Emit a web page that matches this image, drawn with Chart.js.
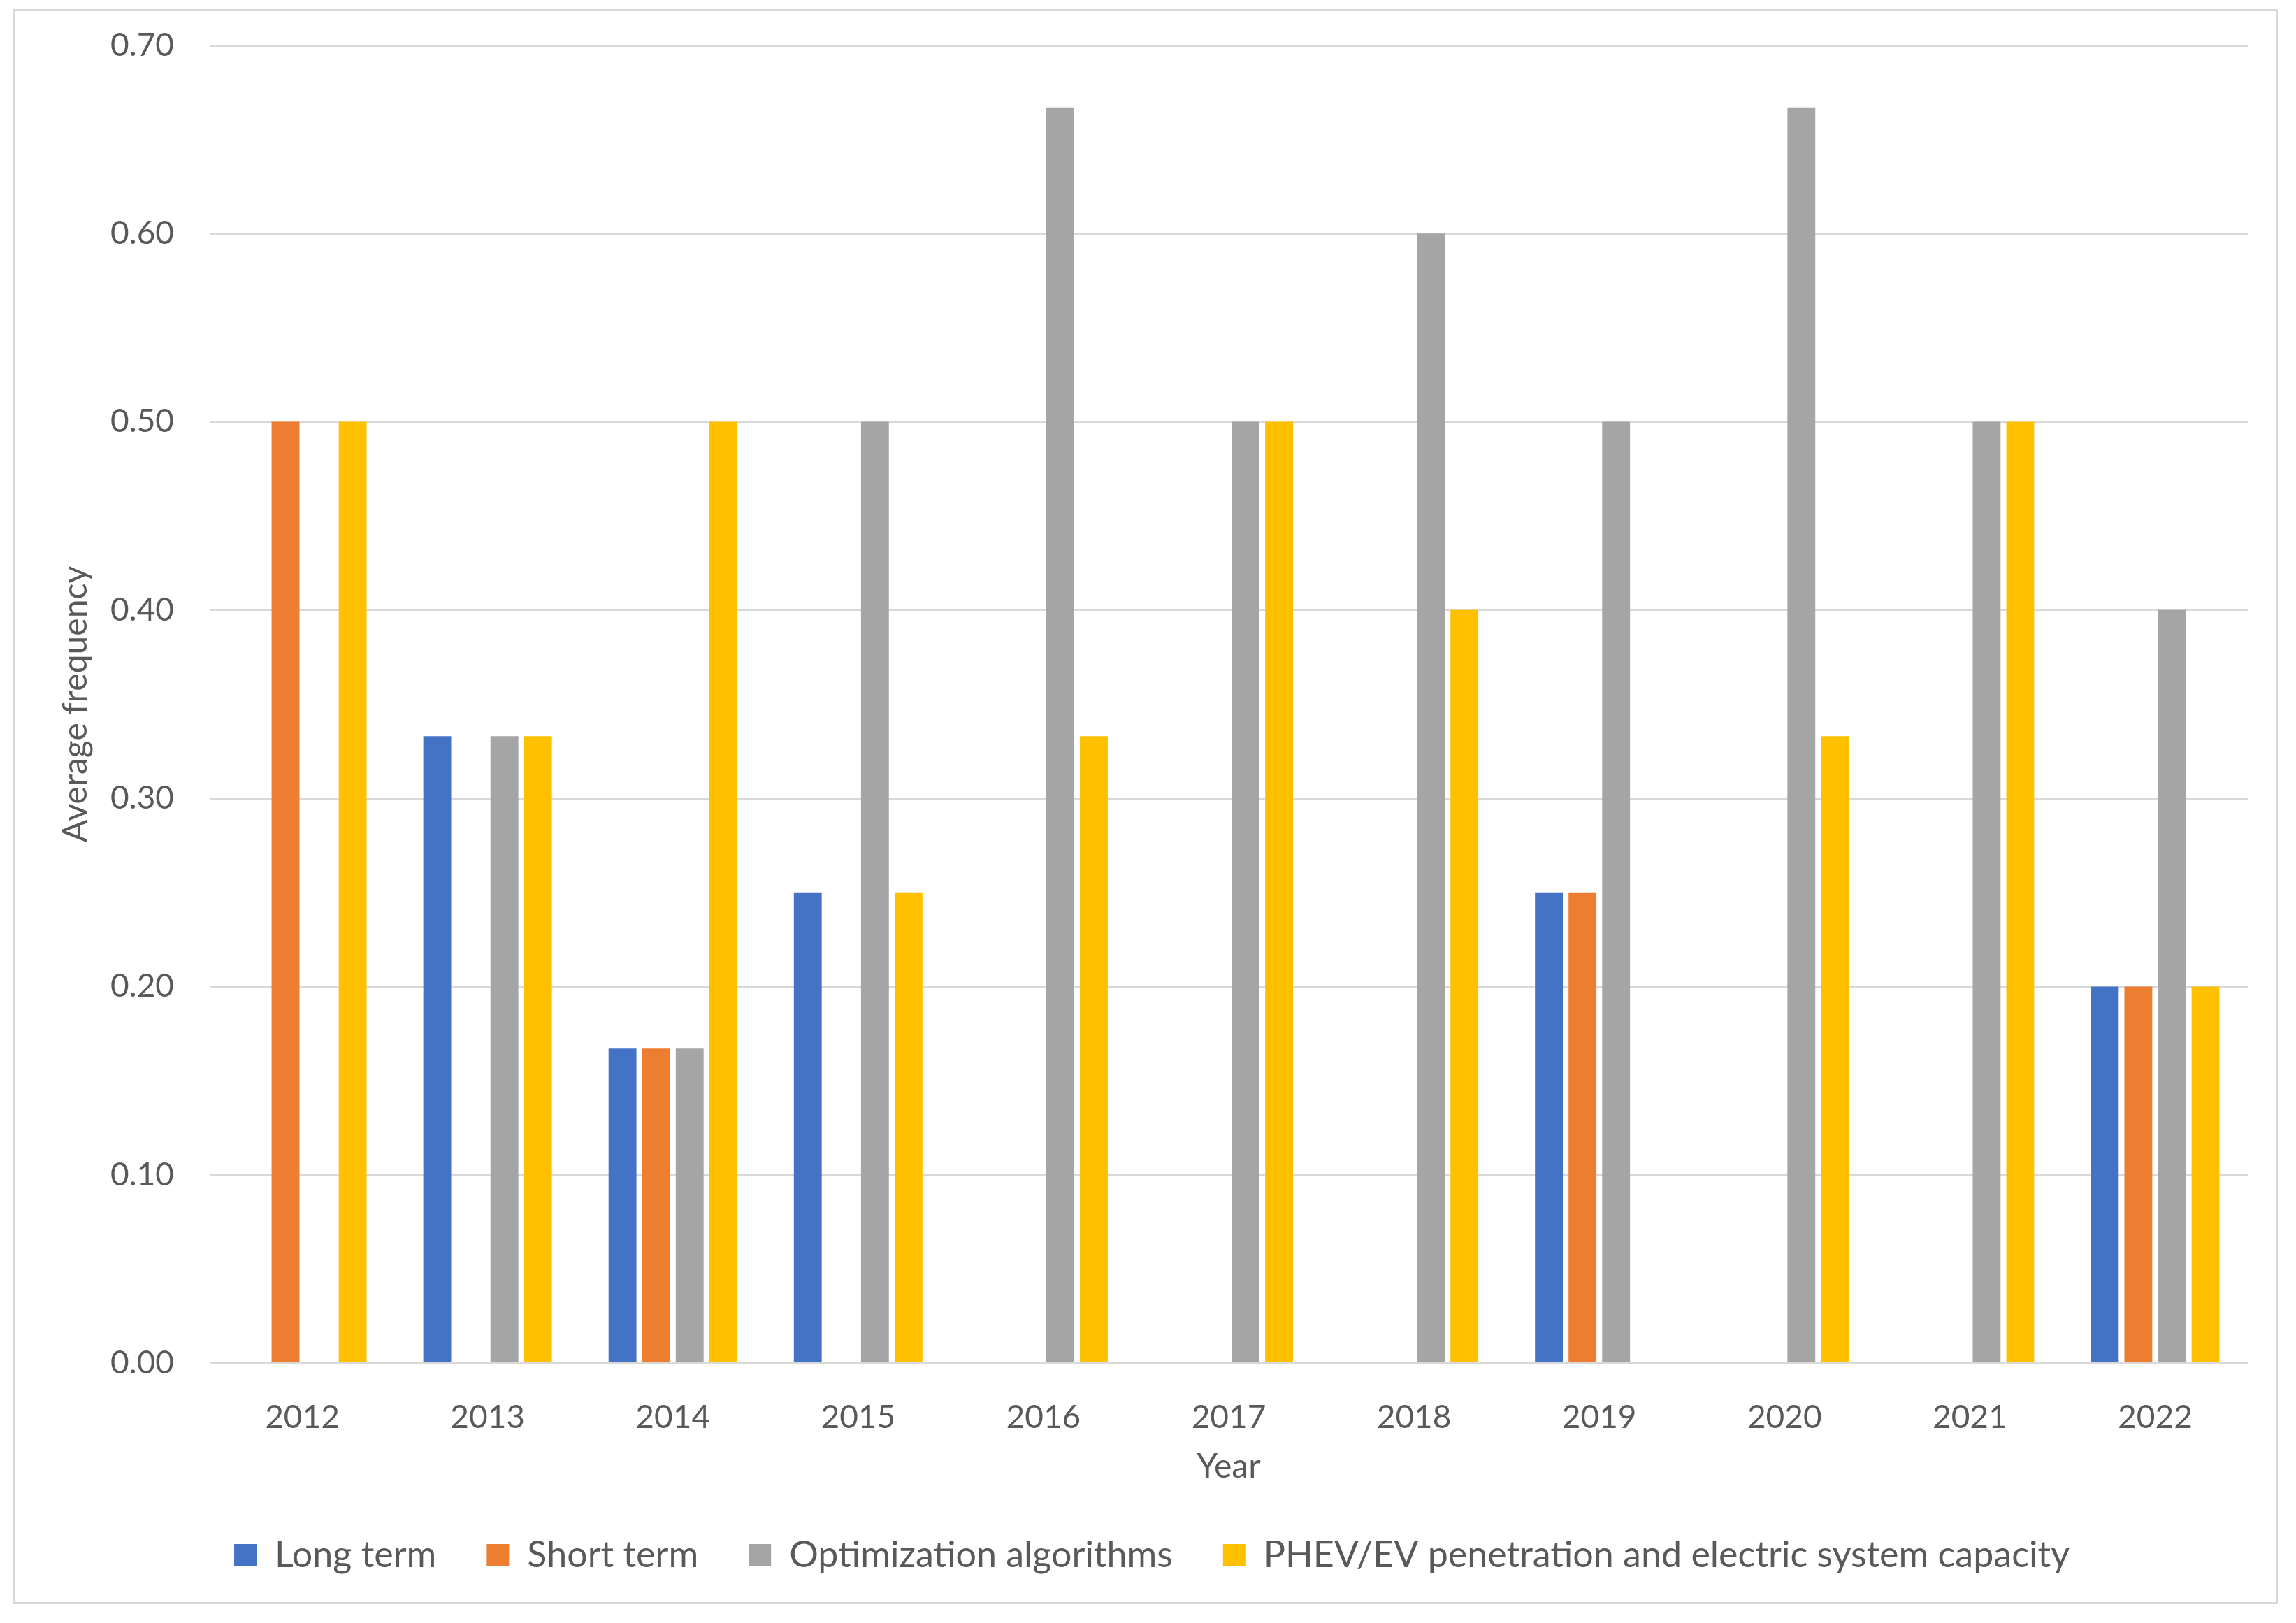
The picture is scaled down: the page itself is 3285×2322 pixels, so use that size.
<!DOCTYPE html>
<html lang="en">

<head>
  <meta charset="UTF-8" />
  <title>Average frequency by year</title>
  <style>
    body { margin: 0; background: #fff; }
    #wrap {
      position: absolute; left: 19px; top: 13px;
      width: 3240px; height: 2282px;
      box-sizing: border-box; border: 3px solid #d9d9d9;
    }
  </style>
</head>

<body>
  <div id="wrap">
    <canvas id="myChart" width="3234" height="2276"></canvas>
  </div>

  <script src="https://cdn.jsdelivr.net/npm/chart.js"></script>

  <script>
    const years = ["2012", "2013", "2014", "2015", "2016", "2017", "2018", "2019", "2020", "2021", "2022"];
    const longTerm = [0, 0.333, 0.167, 0.25, 0, 0, 0, 0.25, 0, 0, 0.2];
    const shortTerm = [0.5, 0, 0.167, 0, 0, 0, 0, 0.25, 0, 0, 0.2];
    const optimization = [0, 0.333, 0.167, 0.5, 0.667, 0.5, 0.6, 0.5, 0.667, 0.5, 0.4];
    const phevCapacity = [0.5, 0.333, 0.5, 0.25, 0.333, 0.5, 0.4, 0, 0.333, 0.5, 0.2];

    const textColor = "#595959";
    const fontFamily = "Lato, 'Open Sans', sans-serif";

    const ctx = document.getElementById("myChart");

    const chart = new Chart(ctx, {
      type: "bar",
      data: {
        labels: years,
        datasets: [
          { label: "Long term", data: longTerm, backgroundColor: "#4472C4" },
          { label: "Short term", data: shortTerm, backgroundColor: "#ED7D31" },
          { label: "Optimization algorithms", data: optimization, backgroundColor: "#A5A5A5" },
          { label: "PHEV/EV penetration and electric system capacity", data: phevCapacity, backgroundColor: "#FFC000" },
        ],
      },
      options: {
        responsive: false,
        devicePixelRatio: 1,
        animation: false,
        categoryPercentage: 0.725,
        barPercentage: 0.83,
        layout: { padding: { left: 58, top: 49, right: 40, bottom: 31 } },
        plugins: {
          tooltip: { enabled: false },
          legend: {
            position: "bottom",
            labels: {
              color: textColor,
              font: { family: fontFamily, size: 52 },
              boxWidth: 32,
              boxHeight: 32,
              padding: 72,
            },
          },
        },
        scales: {
          x: {
            grid: { display: false },
            border: { display: false },
            ticks: { color: textColor, font: { family: fontFamily, size: 46 }, padding: 43 },
            title: {
              display: true,
              text: "Year",
              color: textColor,
              font: { family: fontFamily, size: 48 },
              padding: { top: 0, bottom: 0 },
            },
            afterFit: (axis) => { axis.height = 177; },
          },
          y: {
            min: 0,
            max: 0.7,
            grid: { color: "#d9d9d9", lineWidth: 3, drawTicks: false },
            border: { display: false },
            ticks: {
              stepSize: 0.1,
              color: textColor,
              font: { family: fontFamily, size: 46 },
              padding: 51,
              callback: (v) => v.toFixed(2),
            },
            title: {
              display: true,
              text: "Average frequency",
              color: textColor,
              font: { family: fontFamily, size: 48 },
              padding: { top: 0, bottom: 0 },
            },
            afterFit: (axis) => {
              axis.width = 220;
              // the big tick padding should not push the plot down
              axis.paddingTop = 28;
              axis.paddingBottom = 28;
            },
          },
        },
      },
    });
  </script>
</body>

</html>
